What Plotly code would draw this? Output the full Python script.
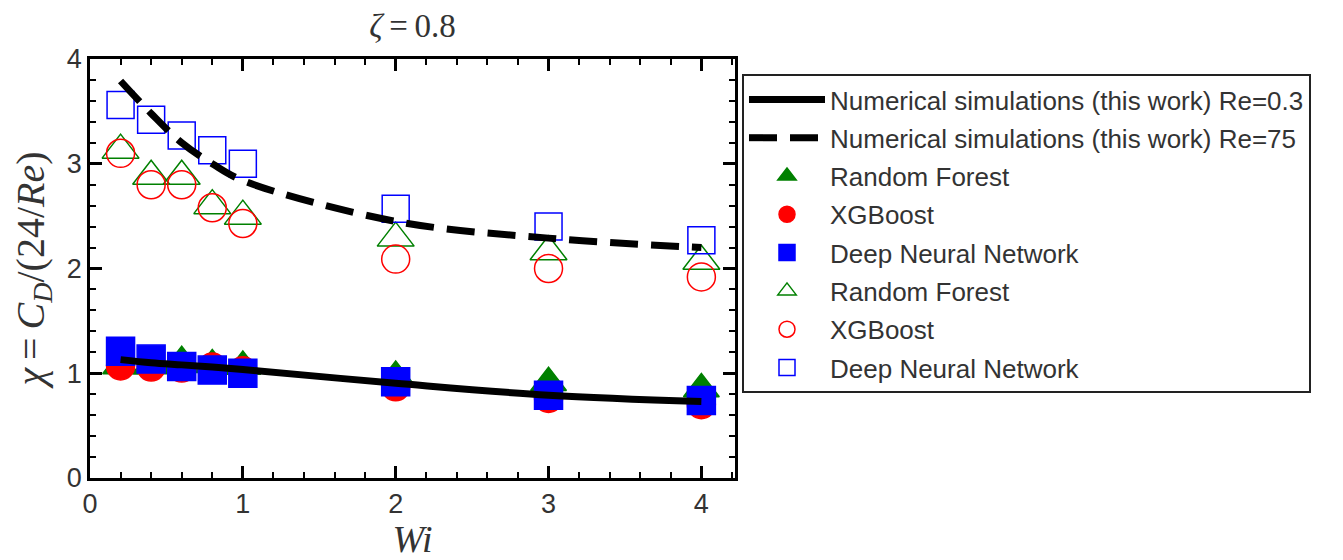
import plotly.graph_objects as go

# ---------------- data ----------------
wi = [0.2, 0.4, 0.6, 0.8, 1.0, 2.0, 3.0, 4.0]

# Re = 0.3 (filled markers, solid line)
sim_re03 = [1.13, 1.10, 1.08, 1.06, 1.035, 0.905, 0.79, 0.73]
rf_re03 = [1.07, 1.07, 1.11, 1.08, 1.065, 0.97, 0.91, 0.85]
xgb_re03 = [1.07, 1.06, 1.05, 1.06, 1.025, 0.87, 0.76, 0.70]
dnn_re03 = [1.21, 1.135, 1.065, 1.03, 1.00, 0.92, 0.79, 0.74]

# Re = 75 (open markers, dashed line)
sim_re75 = [3.79, 3.48, 3.20, 3.00, 2.84, 2.45, 2.29, 2.20]
rf_re75 = [3.13, 2.88, 2.88, 2.60, 2.50, 2.29, 2.16, 2.07]
xgb_re75 = [3.10, 2.80, 2.80, 2.58, 2.43, 2.09, 2.00, 1.92]
dnn_re75 = [3.56, 3.42, 3.27, 3.13, 3.00, 2.57, 2.40, 2.27]

x_ticks = [0, 1, 2, 3, 4]
y_ticks = [0, 1, 2, 3, 4]

names = {
    "sim03": "Numerical simulations (this work) Re=0.3",
    "sim75": "Numerical simulations (this work) Re=75",
    "rf": "Random Forest",
    "xgb": "XGBoost",
    "dnn": "Deep Neural Network",
}

GREEN = "#008000"
RED = "#ff0000"
BLUE = "#0000ff"
TXT = "#333333"
SERIF = "Liberation Serif, DejaVu Serif, serif"
SANS = "Liberation Sans, Arial, sans-serif"

# page body has an 8 px default margin; size the figure to fit the window
W, H = 1335, 552
L, T = 82, 51
PW, PH = 645, 419

fig = go.Figure()


def marker_trace(y, name, symbol, color, size, rank, group):
    return go.Scatter(
        x=wi, y=y, mode="markers", name=name,
        legendrank=rank, legendgroup=group,
        marker=dict(symbol=symbol, color=color, size=size,
                    line=dict(color=color, width=1.5)),
    )


# filled markers (Re = 0.3)
fig.add_trace(marker_trace(rf_re03, names["rf"], "triangle-up", GREEN, 31, 3, "g3"))
fig.add_trace(marker_trace(xgb_re03, names["xgb"], "circle", RED, 28, 4, "g4"))
fig.add_trace(marker_trace(dnn_re03, names["dnn"], "square", BLUE, 28, 5, "g5"))
# open markers (Re = 75)
fig.add_trace(marker_trace(rf_re75, names["rf"], "triangle-up-open", GREEN, 32, 6, "g6"))
fig.add_trace(marker_trace(xgb_re75, names["xgb"], "circle-open", RED, 28, 7, "g7"))
fig.add_trace(marker_trace(dnn_re75, names["dnn"], "square-open", BLUE, 27, 8, "g8"))

# simulation curves
fig.add_trace(go.Scatter(
    x=wi, y=sim_re03, mode="lines", name=names["sim03"],
    legendrank=1, legendgroup="g1",
    line=dict(color="black", width=7, shape="spline"),
))
fig.add_trace(go.Scatter(
    x=wi, y=sim_re75, mode="lines", name=names["sim75"], legendrank=2, legendgroup="g2",
    line=dict(color="black", width=7, shape="spline", dash="28px,13px"),
))

axis_common = dict(
    showline=True, linecolor="black", linewidth=2.5, mirror="allticks",
    ticks="inside", ticklen=12, tickwidth=2.5, tickcolor="black",
    showgrid=False, zeroline=False, automargin=False,
    tickfont=dict(family=SANS, size=27, color=TXT),
    minor=dict(ticks="inside", ticklen=6, tickwidth=2, tickcolor="black",
               dtick=0.2, showgrid=False),
)

fig.update_xaxes(
    **axis_common, range=[0, 4.22], tickvals=x_ticks,
    title=dict(text="<i>Wi</i>", font=dict(family=SERIF, size=38, color=TXT), standoff=0),
)
fig.update_yaxes(
    **axis_common, range=[0, 4], tickvals=y_ticks,
    title=dict(text="<i>χ</i>\u2009=\u2009<i>C</i><sub><i>D</i></sub>/(24/<i>Re</i>)",
               font=dict(family=SERIF, size=40, color=TXT), standoff=15),
)

fig.update_layout(
    width=W, height=H,
    margin=dict(l=L, r=W - L - PW, t=T, b=H - T - PH, autoexpand=False),
    paper_bgcolor="white", plot_bgcolor="white",
    title=dict(text="<i>ζ</i>\u2009=\u20090.8", x=0.5, xref="paper", xanchor="center",
               y=1 - 17 / H, yanchor="middle", yref="container",
               font=dict(family=SERIF, size=33, color=TXT)),
    legend=dict(
        x=(742 - 8 - L) / PW, y=(478 - 74) / PH, xanchor="left", yanchor="top",
        bgcolor="white", bordercolor="#222222", borderwidth=2,
        font=dict(family=SANS, size=26, color=TXT),
        itemwidth=76, itemsizing="trace",
        traceorder="grouped", tracegroupgap=1.5,
    ),
    showlegend=True,
)

fig.write_html("out.html")
